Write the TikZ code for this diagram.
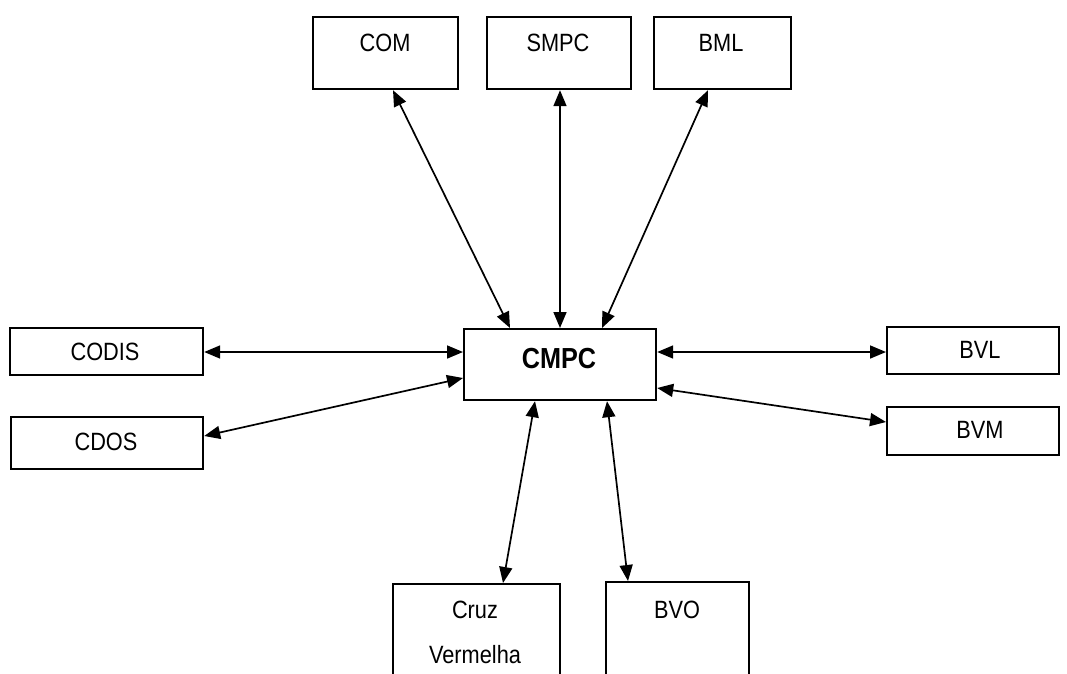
\documentclass[tikz,border=0pt]{standalone}
\usepackage{fontspec}
\setmainfont{Liberation Sans}
\newfontfamily\diagfont[FakeStretch=0.87]{Liberation Sans}
\usetikzlibrary{arrows.meta,calc}
\begin{document}
\begin{tikzpicture}[x=1pt,y=-1pt,
  boxnode/.style={draw=black,line width=2.2pt,inner sep=0pt,anchor=north west,fill=white},
  lbl/.style={font=\diagfont\fontsize{25}{27}\selectfont,inner sep=0pt},
  biglbl/.style={font=\diagfont\fontsize{29}{31}\selectfont\bfseries,inner sep=0pt},
  link/.style={line width=1.7pt,{Triangle[length=16pt,width=13pt]}-{Triangle[length=16pt,width=13pt]}}
]
\useasboundingbox (0,0) rectangle (1067,673);
\clip (0,0) rectangle (1067,673);
% boxes
\node[boxnode,minimum width=145pt,minimum height=72pt] (com) at (312,16) {};
\node[boxnode,minimum width=144pt,minimum height=72pt] (smpc) at (486,16) {};
\node[boxnode,minimum width=137pt,minimum height=72pt] (bml) at (653,16) {};
\node[boxnode,minimum width=193pt,minimum height=47pt] (codis) at (9,327) {};
\node[boxnode,minimum width=192pt,minimum height=52pt] (cdos) at (10,416) {};
\node[boxnode,minimum width=192pt,minimum height=71pt] (cmpc) at (463,328) {};
\node[boxnode,minimum width=172pt,minimum height=47pt] (bvl) at (886,326) {};
\node[boxnode,minimum width=172pt,minimum height=48pt] (bvm) at (886,406) {};
\node[boxnode,minimum width=167pt,minimum height=140pt] (cruz) at (392,583) {};
\node[boxnode,minimum width=143pt,minimum height=140pt] (bvo) at (605,581) {};
% labels
\node[lbl] (tcom) at (385,43) {COM};
\node[lbl] (tsmpc) at (558,43) {SMPC};
\node[lbl] (tbml) at (721,43) {BML};
\node[lbl] (tcodis) at (105,352) {CODIS};
\node[lbl] (tcdos) at (106,442) {CDOS};
\node[biglbl] (tcmpc) at (559,359) {CMPC};
\node[lbl] (tbvl) at (980,350) {BVL};
\node[lbl] (tbvm) at (980,430) {BVM};
\node[lbl] (tcruz) at (475,610) {Cruz};
\node[lbl] (tverm) at (475,655) {Vermelha};
\node[lbl] (tbvo) at (677,610) {BVO};
% connectors
\draw[link] ([xshift=81pt]com.south west) -- ([xshift=47pt]cmpc.north west);
\draw[link] ([xshift=74pt]smpc.south west) -- ([xshift=97pt]cmpc.north west);
\draw[link] ([xshift=55pt]bml.south west) -- ([xshift=139pt]cmpc.north west);
\draw[link] ([yshift=-25pt]codis.north east) -- ([yshift=-24pt]cmpc.north west);
\draw[link] ([yshift=-20pt]cdos.north east) -- ([yshift=-50pt]cmpc.north west);
\draw[link] ([yshift=-24pt]cmpc.north east) -- ([yshift=-26pt]bvl.north west);
\draw[link] ([yshift=-60pt]cmpc.north east) -- ([yshift=-16pt]bvm.north west);
\draw[link] ([xshift=72pt]cmpc.south west) -- ([xshift=111pt]cruz.north west);
\draw[link] ([xshift=144pt]cmpc.south west) -- ([xshift=23pt]bvo.north west);
\end{tikzpicture}
\end{document}
